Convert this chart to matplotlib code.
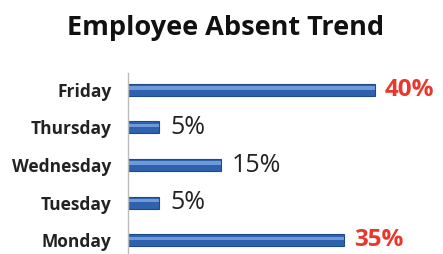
import matplotlib.pyplot as plt
import numpy as np

days = ["Monday", "Tuesday", "Wednesday", "Thursday", "Friday"]
absent_pct = [35, 5, 15, 5, 40]
highlight = [True, False, False, False, True]
title = "Employee Absent Trend"

plt.rcParams['font.family'] = ['Open Sans', 'DejaVu Sans']

fig = plt.figure(figsize=(4.43, 2.54), dpi=100)
ax = fig.add_axes([128/443, 0.0, 1 - 128/443, 1 - 73/254])

y = np.arange(len(days))
ax.barh(y, absent_pct, height=0.32, color='#2F62AE', edgecolor='#1F4A88', linewidth=0.8)
# subtle highlight stripe for a glossy look
ax.barh(y + 0.05, absent_pct, height=0.09, color='#6F9ADA', linewidth=0)

for yi, v, h in zip(y, absent_pct, highlight):
    if h:
        ax.annotate(f"{v}%", (v, yi), xytext=(7, 0), textcoords='offset points',
                    va='center', ha='left', fontsize=17.5, fontweight='bold', color='#E8382E')
    else:
        ax.annotate(f"{v}%", (v, yi), xytext=(8, 0), textcoords='offset points',
                    va='center', ha='left', fontsize=18, color='#222222')

ax.set_xlim(0, 40 * 315 / 247)
ax.set_ylim(-0.37, 4.45)
ax.set_yticks(y)
ax.set_yticklabels(days, fontsize=12.5, fontweight='bold', color='#222222')
ax.set_xticks([])
ax.tick_params(axis='y', length=0, pad=12)
for s in ['top', 'right', 'bottom']:
    ax.spines[s].set_visible(False)
ax.spines['left'].set_color('#BBBBBB')
ax.spines['left'].set_linewidth(1)

fig.text(226/443, 1 - 28/254, title, ha='center', va='center', fontsize=19.5, fontweight='bold', color='#111111')

fig.savefig('out.png', dpi=100)
